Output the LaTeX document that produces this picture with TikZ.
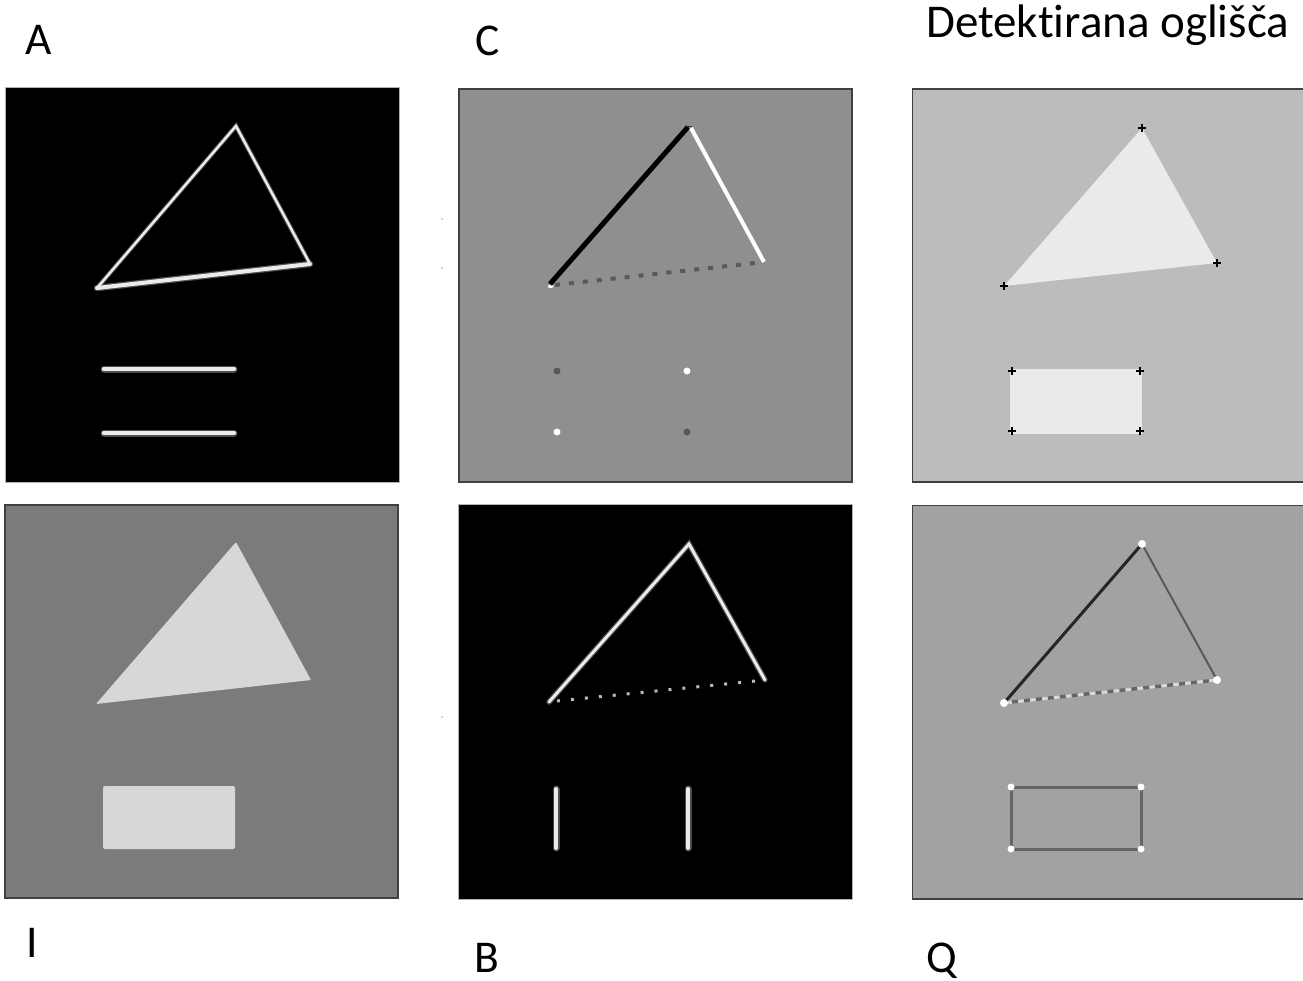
\documentclass[tikz,border=0pt]{standalone}
\usepackage{fontspec}
\setmainfont{Carlito}[Ligatures=NoCommon]
\definecolor{bgC}{HTML}{8F8F8F}
\definecolor{bgD}{HTML}{BCBCBC}
\definecolor{shD}{HTML}{EAEAEA}
\definecolor{bgI}{HTML}{7B7B7B}
\definecolor{shI}{HTML}{D7D7D7}
\definecolor{bgQ}{HTML}{A2A2A2}
\tikzset{
  lbl/.style={anchor=base west, inner sep=0pt, font=\fontsize{45.5}{50}\selectfont},
  glow/.style={draw=white!30!black, line width=#1, line cap=round},
  core/.style={draw=white!92!black, line width=#1, line cap=round},
  plusmark/.style={draw=black, line width=1.3pt},
}
\newcommand{\plusat}[1]{\draw[plusmark] ($(#1)+(-4,0)$) -- ($(#1)+(4,0)$) ($(#1)+(0,-4)$) -- ($(#1)+(0,4)$);}
\usetikzlibrary{calc}
\begin{document}
\begin{tikzpicture}[x=1pt,y=-1pt]
\useasboundingbox (0,0) rectangle (1303,981);
\fill[white] (0,0) rectangle (1303,981);

% labels
\node[lbl] (lA) at (25,55) {A};
\node[lbl] (lC) at (475,56) {C};
\node[lbl, font=\fontsize{47}{52}\selectfont] (lD) at (926,38) {Detektirana oglišča};
\node[lbl] (lI) at (26,957) {I};
\node[lbl] (lB) at (474,972) {B};
\node[lbl] (lQ) at (926,972) {Q};

% tiny artefacts
\fill[gray!70] (442,219) circle (0.8);
\fill[gray!70] (442,268) circle (0.8);
\fill[gray!70] (442,717) circle (0.8);

% ---------- Panel A ----------
\begin{scope}
\fill[black] (5,88) rectangle (399,482);
\draw[gray!60, line width=1pt] (5,88) rectangle (399,482);
\coordinate (aT) at (236,126);
\coordinate (aL) at (97,288);
\coordinate (aR) at (310,264);
\draw[glow=4.5pt] (aL) -- (aT) -- (aR);
\draw[glow=6.5pt] (aL) -- (aR);
\draw[core=2.5pt] (aL) -- (aT) -- (aR);
\draw[core=4pt] (aL) -- (aR);
\draw[glow=7pt] (104,369) -- (234,369);
\draw[glow=7pt] (104,433) -- (234,433);
\draw[core=4.5pt] (104,369) -- (234,369);
\draw[core=4.5pt] (104,433) -- (234,433);
\end{scope}

% ---------- Panel C ----------
\begin{scope}
\fill[bgC] (459,89) rectangle (852,482);
\draw[black!75, line width=1.2pt] (459,89) rectangle (852,482);
\coordinate (cT) at (688,127);
\coordinate (cL) at (550,284);
\coordinate (cR) at (764,262);
\draw[black!65, line width=4pt, dash pattern=on 5pt off 9pt] ($(cL)+(5,1)$) -- (cR);
\draw[white, line width=3pt, line cap=round] (cL) ++(-1,3) -- ++(3,0);
\draw[black, line width=5pt] (cL) -- (cT);
\draw[black!80, line width=1pt] (cT) -- ++(4,0);
\draw[white, line width=4pt] ($(cT)+(3,1)$) -- (cR);
\fill[black!65] (557,371) circle (3.5);
\fill[white] (687,371) circle (3.5);
\fill[white] (557,432) circle (3.5);
\fill[black!65] (687,432) circle (3.5);
\end{scope}

% ---------- Panel D ----------
\begin{scope}
\clip (912,89) rectangle (1303,482);
\fill[bgD] (912,89) rectangle (1303,482);
\draw[black!75, line width=1.5pt] (912,89) rectangle (1310,482);
\coordinate (dT) at (1142,128);
\coordinate (dL) at (1004,286);
\coordinate (dR) at (1217,263);
\fill[shD] (dT) -- (dR) -- (dL) -- cycle;
\fill[shD] (1010,369) rectangle (1142,434);
\coordinate (d1) at (1012,371);
\coordinate (d2) at (1140,371);
\coordinate (d3) at (1012,431);
\coordinate (d4) at (1140,431);
\plusat{dT}\plusat{dL}\plusat{dR}
\plusat{d1}\plusat{d2}\plusat{d3}\plusat{d4}
\end{scope}

% ---------- Panel I ----------
\begin{scope}
\fill[bgI] (5,505) rectangle (398,898);
\draw[black!75, line width=1.5pt] (5,505) rectangle (398,898);
\coordinate (iT) at (236,542);
\coordinate (iL) at (96,704);
\coordinate (iR) at (311,680);
\fill[shI, rounded corners=1pt] (iT) -- (iR) -- (iL) -- cycle;
\fill[shI, rounded corners=2pt] (103,786) rectangle (235,849);
\end{scope}

% ---------- Panel B ----------
\begin{scope}
\fill[black] (458,504) rectangle (852,899);
\draw[gray!60, line width=1pt] (458,504) rectangle (852,899);
\coordinate (bT) at (689,544);
\coordinate (bL) at (549,702);
\coordinate (bR) at (765,680);
\draw[gray!55, line width=3pt, dash pattern=on 3pt off 11pt] ($(bL)+(8,-1)$) -- (bR);
\draw[glow=5.5pt] (bL) -- (bT) -- (bR);
\draw[core=3pt] (bL) -- (bT) -- (bR);
\draw[glow=7pt] (556,789) -- (556,848);
\draw[glow=7pt] (688,789) -- (688,848);
\draw[core=4pt] (556,789) -- (556,848);
\draw[core=4pt] (688,789) -- (688,848);
\end{scope}

% ---------- Panel Q ----------
\begin{scope}
\clip (912,505) rectangle (1303,899);
\fill[bgQ] (912,505) rectangle (1303,899);
\draw[black!75, line width=1.5pt] (912,505) rectangle (1310,899);
\coordinate (qT) at (1142,544);
\coordinate (qL) at (1004,703);
\coordinate (qR) at (1217,680);
\draw[white!85!black, line width=3pt] (qL) -- (qR);
\draw[black!60, line width=3.5pt, dash pattern=on 6pt off 6pt] ($(qL)+(8,-1)$) -- (qR);
\draw[black!85, line width=3pt] (qL) -- (qT);
\draw[black!65, line width=2pt] (qT) -- (qR);
\draw[black!60, line width=3pt] (1011,787) rectangle (1141,849);
\foreach \p in {qT,qL,qR}{\fill[white] (\p) circle (4);}
\fill[white] (1011,787) circle (3.5);
\fill[white] (1141,787) circle (3.5);
\fill[white] (1011,849) circle (3.5);
\fill[white] (1141,849) circle (3.5);
\end{scope}
\end{tikzpicture}
\end{document}
